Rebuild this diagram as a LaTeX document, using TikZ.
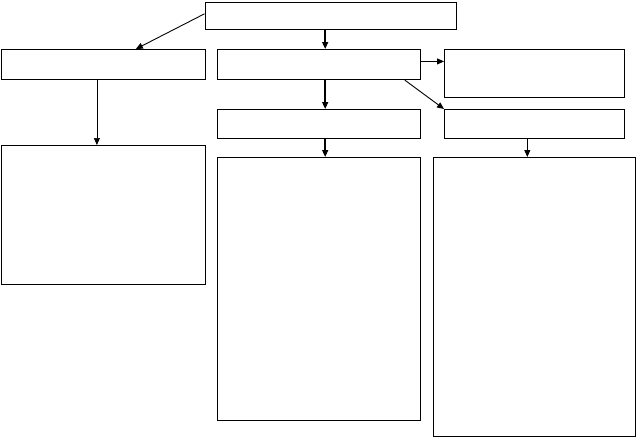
\documentclass[tikz,border=0pt]{standalone}
\usetikzlibrary{arrows.meta,calc}
\begin{document}
\begin{tikzpicture}[x=1pt,y=-1pt,
  box/.style={draw,line width=1.1pt,inner sep=0pt,anchor=north west},
  arr/.style={line width=0.9pt,-{Triangle[length=7pt,width=6pt]}},
  thinarr/.style={line width=0.6pt,-{Triangle[length=7pt,width=6pt]}},
  thickarr/.style={line width=1.4pt,-{Triangle[length=7pt,width=6pt]}}]
\useasboundingbox (0,0) rectangle (636,437);
\node[box,minimum width=251pt,minimum height=27pt] (top) at (204.5,2) {};
\node[box,minimum width=204pt,minimum height=30pt] (l2) at (0.5,49) {};
\node[box,minimum width=203pt,minimum height=30pt] (m2) at (217,49) {};
\node[box,minimum width=180pt,minimum height=48pt] (r2) at (444,49) {};
\node[box,minimum width=203pt,minimum height=29pt] (m3) at (217,109) {};
\node[box,minimum width=180pt,minimum height=29pt] (r3) at (444,109) {};
\node[box,minimum width=204pt,minimum height=139pt] (l4) at (0.5,145) {};
\node[box,minimum width=203pt,minimum height=263pt] (m4) at (217,157) {};
\node[box,minimum width=202pt,minimum height=279pt] (r4) at (432.5,157) {};
\coordinate (tl) at ($(top.north west)!0.42!(top.south west)$);
\coordinate (l2t) at ($(l2.north west)!0.66!(l2.north east)$);
\draw[arr] (tl) -- (l2t);
\coordinate (ax) at ($(m2.north west)!0.53!(m2.north east)$);
\draw[thickarr] (top.south -| ax) -- (ax);
\draw[thickarr] (m2.south -| ax) -- (m3.north -| ax);
\draw[thickarr] (m3.south -| ax) -- (m4.north -| ax);
\coordinate (m2r) at ($(m2.north east)!0.4!(m2.south east)$);
\draw[arr] (m2r) -- (m2r -| r2.west);
\coordinate (m2d) at ($(m2.south west)!0.92!(m2.south east)$);
\draw[arr] (m2d) -- (r3.north west);
\coordinate (l2d) at ($(l2.south west)!0.47!(l2.south east)$);
\draw[thinarr] (l2d) -- (l2d |- l4.north);
\coordinate (r3d) at ($(r3.south west)!0.46!(r3.south east)$);
\draw[arr] (r3d) -- (r3d |- r4.north);
\end{tikzpicture}
\end{document}
